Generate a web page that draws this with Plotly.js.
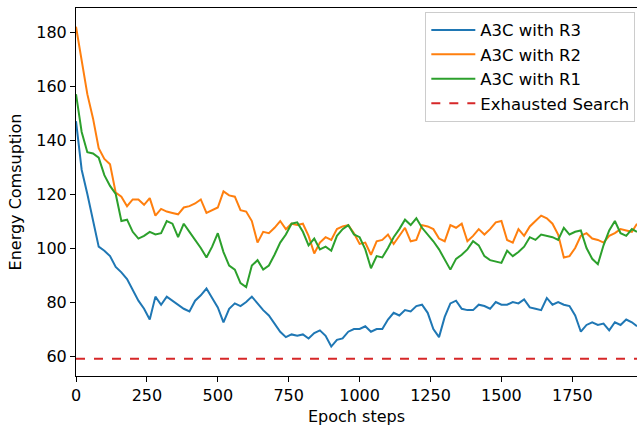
<!DOCTYPE html>
<html>
<head>
<meta charset="utf-8">
<script src="https://cdn.plot.ly/plotly-3.0.1.min.js"></script>
<style>html,body{margin:0;padding:0;background:#fff;}#chart{width:637px;height:430px;}</style>
</head>
<body>
<div id="chart"></div>
<script>
const steps = [0,20,40,60,80,100,120,140,160,180,200,220,240,260,280,300,320,340,360,380,
400,420,440,460,480,500,520,540,560,580,600,620,640,660,680,700,720,740,760,780,
800,820,840,860,880,900,920,940,960,980,1000,1020,1040,1060,1080,1100,1120,1140,1160,1180,
1200,1220,1240,1260,1280,1300,1320,1340,1360,1380,1400,1420,1440,1460,1480,1500,1520,1540,1560,1580,
1600,1620,1640,1660,1680,1700,1720,1740,1760,1780,1800,1820,1840,1860,1880,1900,1920,1940,1960,1978];

const r3 = [147,129,120,110.5,100.5,99,97,93,91,88.5,84.5,80.5,77.5,73.5,82,79,82,80.5,79,77.5,
76.5,80.5,82.5,85,81.5,78,72.5,77.5,79.5,78.5,80,82,79.5,77,75,72,69,67,68,67.5,
68,66.5,68.5,69.5,67.5,63.5,66,66.5,69,70,70,71,69,70,70,73.5,76,75,77,76.5,
78.5,79,76,70,67,74.5,79.5,80.5,77.5,77,77,79,78.5,77.5,80,79,79,80,79.5,81,
78,77.5,77,81.5,79,80,79,78.5,75,69,71.5,72.5,71.5,72,69.5,72.5,71.5,73.5,72.5,71];

const r2 = [182,169,157,148,137,133,131,120.5,119,115.5,118,118,116,118.5,112,114.5,113.5,113,112.5,115,
115.5,116.5,118,113,114,115,121,119.5,119,114,113.5,110,102,106,105.5,107.5,110,107,109,108.5,
109,104.5,98,102,104,103,107,108,108.5,105.5,101.5,102,97.5,102.5,103,105,101.5,104.5,107.5,102.5,
103,108.5,108,107,103.5,102.5,108.5,107.5,109,102.5,104.5,107,105,107,109.5,110,103,102,107,104.5,
108,110,112,111,109,105,96.5,97,100,104.5,105.5,103.5,103,102,104.5,105.5,107,106.5,106,109];

const r1 = [157,143,135.5,135,133.5,127,123,120,110,110.5,106,103.5,104.5,106,105,105.5,110,109,104,109,
106,103,100,96.5,100.5,105.5,98.5,93.5,92,87,85.5,93.5,95.5,92,93.5,97.5,102,105,109,109.5,
106,101,103.5,99.5,100.5,99,104.5,107,108.5,105,104,99.5,92.5,97,96.5,100,104,107,110.5,108.5,
111,107.5,105,102.5,99.5,96,92,96,97.5,99.5,102.5,101,97,95.5,95,94.5,99,97,98.5,100.5,
104,103,105,104.5,104,103,107.5,105,106,106.5,100,96,94,101,106.5,110,105.5,104.5,107,106];

const exhaustedValue = 59;

const series = [
  {name: 'A3C with R3', y: r3, color: '#1f77b4'},
  {name: 'A3C with R2', y: r2, color: '#ff7f0e'},
  {name: 'A3C with R1', y: r1, color: '#2ca02c'}
];

const traces = series.map((s, i) => ({
  type: 'scatter', mode: 'lines', x: steps, y: s.y, name: s.name,
  legendgroup: 'g' + i,
  line: {color: s.color, width: 2}
}));
traces.push({
  type: 'scatter', mode: 'lines', x: [steps[0], steps[steps.length - 1]],
  y: [exhaustedValue, exhaustedValue], name: 'Exhausted Search', legendgroup: 'g3',
  line: {color: '#d62728', width: 2, dash: 'dash'}
});

const font = {family: 'DejaVu Sans, sans-serif', size: 16, color: '#000'};
const legendFont = {family: 'DejaVu Sans, sans-serif', size: 16.5, color: '#000'};
const layout = {
  width: 637, height: 430,
  margin: {l: 76, r: 0, t: 8, b: 54},
  paper_bgcolor: '#fff', plot_bgcolor: '#fff',
  font: font,
  showlegend: true,
  legend: {
    x: 0.997, y: 0.99, xanchor: 'right', yanchor: 'top',
    bgcolor: 'rgba(255,255,255,0.8)', bordercolor: '#cccccc', borderwidth: 1,
    font: legendFont, traceorder: 'grouped', tracegroupgap: 0, itemwidth: 44
  },
  xaxis: {
    range: [0, 1978], tickvals: [0,250,500,750,1000,1250,1500,1750],
    showgrid: false, zeroline: false, showline: true, linecolor: '#000', linewidth: 1,
    mirror: true, ticks: 'outside', ticklen: 5, tickcolor: '#000',
    title: {text: 'Epoch steps', font: font, standoff: 6}
  },
  yaxis: {
    range: [52.6, 188.9], tickvals: [60,80,100,120,140,160,180],
    showgrid: false, zeroline: false, showline: true, linecolor: '#000', linewidth: 1,
    ticks: 'outside', ticklen: 5, tickcolor: '#000',
    title: {text: 'Energy Comsuption', font: font, standoff: 10}
  }
};
Plotly.newPlot('chart', traces, layout, {displayModeBar: false, staticPlot: true});
</script>
</body>
</html>
